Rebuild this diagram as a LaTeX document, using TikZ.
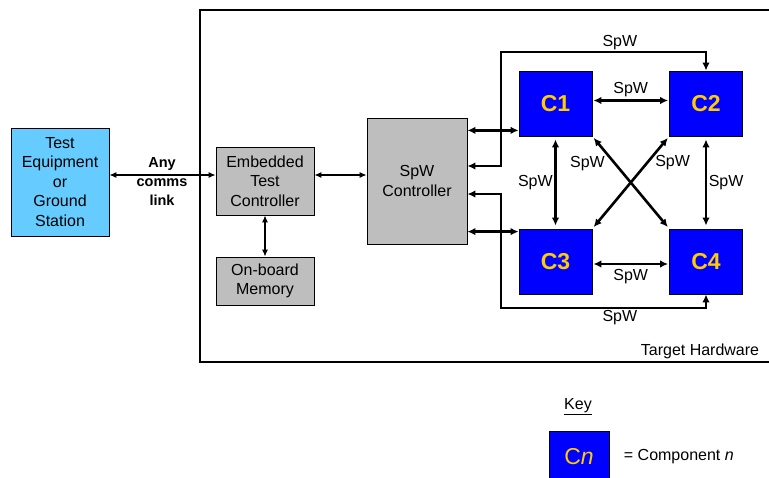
\documentclass[tikz,border=0pt]{standalone}
\usepackage{fontspec}
\setmainfont{Liberation Sans}
\usetikzlibrary{positioning, arrows.meta, calc}

\begin{document}
\begin{tikzpicture}[x=1pt, y=-1pt, >={Latex[length=7pt, width=6pt]}, font=\fontsize{16}{19.5}\selectfont]
    \definecolor{c1}{RGB}{102, 204, 255} \definecolor{c2}{RGB}{190, 190, 190}
    \definecolor{c3}{RGB}{0, 0, 255} \definecolor{c4}{RGB}{255, 204, 0}
    \tikzset{
        box/.style={draw, line width=0.8pt, align=center, inner sep=0pt},
        comp/.style={box, fill=c3, minimum width=73pt, minimum height=65pt, text=c4, font=\fontsize{23}{26}\selectfont\bfseries},
        link/.style={<->, line width=1.2pt},
        spwlink/.style={<->, line width=2.6pt, >={Latex[length=8pt, width=7.5pt]}},
        spwlabel/.style={inner sep=1pt}
    }
    \useasboundingbox (0,0) rectangle (769,478);

    % target hardware frame
    \draw[line width=2pt] (769,10) -- (200,10) -- (200,362) -- (769,362);
    \node (hw) at (700,351) {Target Hardware};

    % blocks
    \node[box, fill=c1, minimum width=98pt, minimum height=108pt] (tes) at (60,182) {Test\\Equipment\\or\\Ground\\Station};
    \node[box, fill=c2, minimum width=98pt, minimum height=68pt] (etc) at (265,181) {Embedded\\Test\\Controller};
    \node[box, fill=c2, minimum width=98pt, minimum height=48pt] (mem) at (265,281) {On-board\\Memory};
    \node[box, fill=c2, minimum width=100pt, minimum height=126pt] (ctl) at (417,181) {SpW\\Controller};
    \node[comp] (cmp1) at (555.5,103.5) {C1};
    \node[comp] (cmp2) at (706,103.5) {C2};
    \node[comp] (cmp3) at (555.5,261.5) {C3};
    \node[comp] (cmp4) at (706,261.5) {C4};

    % left links
    \node[align=center, font=\fontsize{14.5}{19}\selectfont\bfseries] (comms) at (162,182) {Any\\comms\\link};
    \draw[link] ([yshift=7pt]tes.east) -- ([yshift=6pt]etc.west);
    \draw[link] ([yshift=6pt]etc.east) -- ([yshift=6pt]ctl.west);
    \draw[link] (etc.south) -- (mem.north);

    % controller to components
    \coordinate (p1) at ([yshift=6pt]cmp1.south west);
    \coordinate (p3) at ([yshift=-3pt]cmp3.north west);
    \coordinate (loopT) at (501,52);
    \coordinate (loopB) at (501,308);
    \draw[spwlink] (ctl.east |- p1) -- (p1);
    \draw[spwlink] (ctl.east |- p3) -- (p3);
    \draw[spwlink] ([yshift=15pt]ctl.east) -| (loopT) -| (cmp2.north) node[pos=0.29, above, spwlabel] {SpW};
    \draw[spwlink] ([yshift=-13pt]ctl.east) -| (loopB) -| (cmp4.south) node[pos=0.29, below, spwlabel] {SpW};

    % component mesh
    \draw[spwlink, shorten <=1pt, shorten >=1pt] ([yshift=3pt]cmp1.east) -- ([yshift=3pt]cmp2.west) node[midway, above, inner sep=2pt] {SpW};
    \draw[spwlink, shorten <=1pt, shorten >=1pt] ([yshift=-2.5pt]cmp3.east) -- ([yshift=-2.5pt]cmp4.west) node[midway, below, inner sep=4pt] {SpW};
    \draw[spwlink, shorten <=3pt, shorten >=3pt] (cmp1.south) -- (cmp3.north) node[midway, left, inner sep=1.5pt] {SpW};
    \draw[spwlink, shorten <=3pt, shorten >=3pt] (cmp2.south) -- (cmp4.north) node[midway, right, inner sep=1.5pt] {SpW};
    \draw[spwlink, shorten <=2pt, shorten >=2pt] (cmp1.south east) -- (cmp4.north west) node[pos=0.3, xshift=-28pt] {SpW};
    \draw[spwlink, shorten <=2pt, shorten >=2pt] (cmp2.south west) -- (cmp3.north east) node[pos=0.28, xshift=25pt] {SpW};

    % key
    \node (key) at (578,407) {\underline{Key}};
    \node[box, fill=c3, minimum width=60pt, minimum height=52pt, text=c4, font=\fontsize{23}{26}\selectfont] (keybox) at (579,457) {C\textit{n}};
    \node[right=11pt of keybox] (keytxt) {= Component \textit{n}};
\end{tikzpicture}
\end{document}
